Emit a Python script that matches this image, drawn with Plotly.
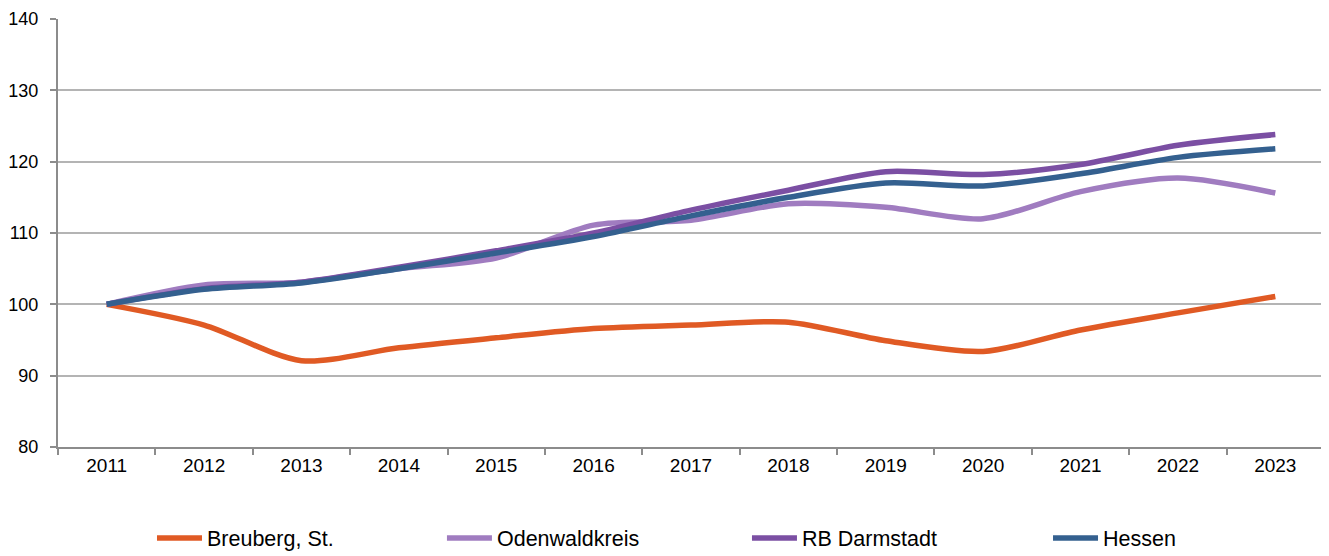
import plotly.graph_objects as go

years = ["2011", "2012", "2013", "2014", "2015", "2016", "2017",
         "2018", "2019", "2020", "2021", "2022", "2023"]

breuberg = [100, 97.1, 92.1, 93.9, 95.3, 96.6, 97.1, 97.5, 94.9, 93.4, 96.4, 98.8, 101.1]
odenwald = [100, 102.7, 103.1, 105.0, 106.5, 111.1, 111.8, 114.1, 113.6, 112.0, 115.8, 117.7, 115.6]
rb_darmstadt = [100, 102.2, 103.1, 105.2, 107.5, 110.0, 113.2, 116.0, 118.6, 118.2, 119.6, 122.3, 123.8]
hessen = [100, 102.1, 103.0, 105.0, 107.2, 109.5, 112.4, 115.0, 117.0, 116.6, 118.3, 120.6, 121.8]

series = [
    ("Breuberg, St.", breuberg, "#E05A24"),
    ("Odenwaldkreis", odenwald, "#A07CC0"),
    ("RB Darmstadt", rb_darmstadt, "#7B4FA3"),
    ("Hessen", hessen, "#34608F"),
]
legend_x = [0.1090, 0.3285, 0.5594, 0.7873]  # one legend per series (container coords)

FONT = "Liberation Sans, Arial"

fig = go.Figure()
for i, (name, vals, color) in enumerate(series):
    leg = "legend" if i == 0 else "legend%d" % (i + 1)
    fig.add_trace(go.Scatter(
        x=years, y=vals, name=name, mode="lines", legend=leg,
        line=dict(color=color, width=5.5, shape="spline", smoothing=0.8),
    ))

layout_legends = {}
for i, lx in enumerate(legend_x):
    key = "legend" if i == 0 else "legend%d" % (i + 1)
    layout_legends[key] = dict(
        orientation="h", xref="container", yref="container",
        x=lx, xanchor="left", y=0.0328, yanchor="middle",
        font=dict(family=FONT, size=21.5), itemwidth=45,
        bgcolor="rgba(0,0,0,0)",
    )

# the page body adds an 8px margin, so the figure is 8px smaller
fig.update_layout(
    width=1321, height=548,
    margin=dict(l=50, r=5, t=11, b=109),
    plot_bgcolor="white", paper_bgcolor="white",
    font=dict(family=FONT, size=18, color="#000000"),
    showlegend=True,
    **layout_legends,
)

fig.update_xaxes(
    type="category", tickson="boundaries", range=[-0.5, 12.5],
    showline=True, linecolor="#8C8C8C", linewidth=2,
    ticks="outside", ticklen=6, tickcolor="#8C8C8C", tickwidth=2,
    showgrid=False, tickfont=dict(size=19), automargin=False,
)
fig.update_yaxes(
    range=[80, 140], dtick=10,
    showline=True, linecolor="#8C8C8C", linewidth=2,
    ticks="outside", ticklen=6, tickcolor="#8C8C8C", tickwidth=2,
    showgrid=True, gridcolor="#B4B4B4", gridwidth=1.5,
    zeroline=False, tickfont=dict(size=18), ticklabelstandoff=8,
    automargin=False,
)

fig.write_html("out.html")
